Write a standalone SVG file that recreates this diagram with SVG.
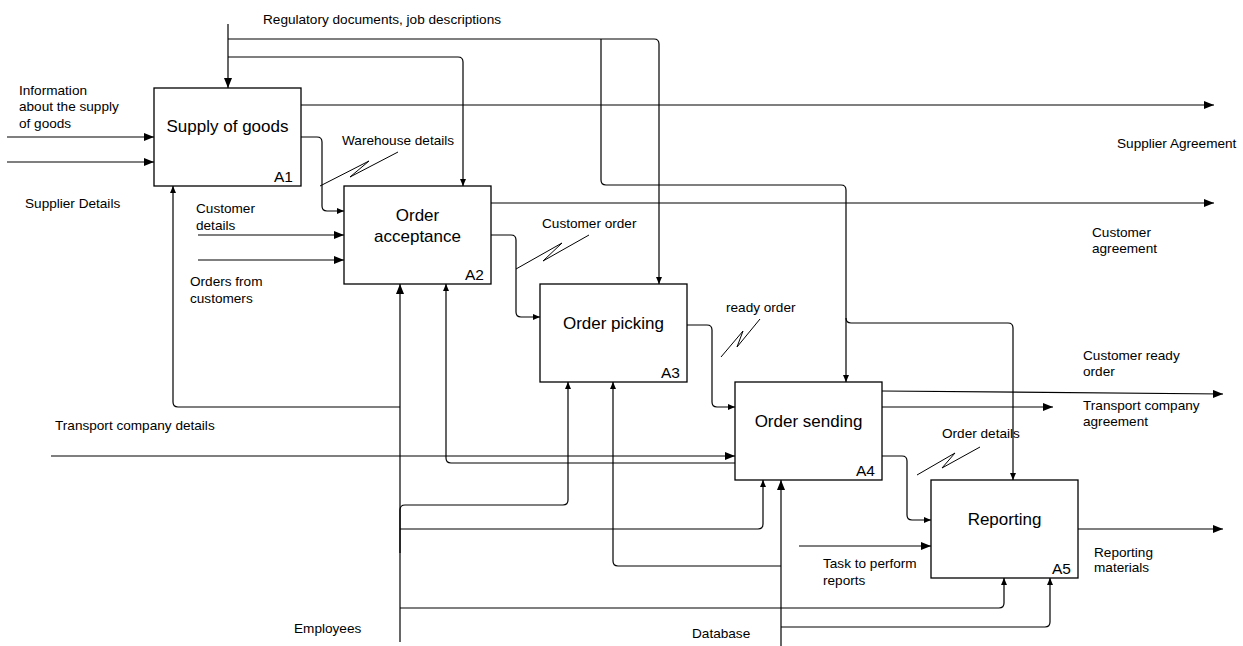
<svg xmlns="http://www.w3.org/2000/svg" width="1243" height="646" viewBox="0 0 1243 646">
<style>
  .box{fill:#fff;stroke:#000;stroke-width:1.3}
  .title{font-family:"Liberation Sans",Arial,sans-serif;font-size:17px;fill:#000;text-anchor:middle}
  .num{font-family:"Liberation Sans",Arial,sans-serif;font-size:15.5px;fill:#000;text-anchor:end}
  .lbl{font-family:"Liberation Sans",Arial,sans-serif;font-size:13.6px;fill:#000}
  .c{fill:none;stroke:#000;stroke-width:1.2}
  .cb{fill:none;stroke:#000;stroke-width:1.2;marker-end:url(#ab)}
  .cs{fill:none;stroke:#000;stroke-width:1.2;marker-end:url(#as)}
  .sq{fill:none;stroke:#000;stroke-width:1}
</style>
<defs>
  <marker id="ab" markerUnits="userSpaceOnUse" markerWidth="11" markerHeight="9" refX="10" refY="4" orient="auto">
    <path d="M0,0 L10,4 L0,8 z" fill="#000"/>
  </marker>
  <marker id="as" markerUnits="userSpaceOnUse" markerWidth="8" markerHeight="7" refX="7" refY="3" orient="auto">
    <path d="M0,0 L7,3 L0,6 z" fill="#000"/>
  </marker>
</defs>
<rect width="1243" height="646" fill="#fff"/>
<g id="connectors">
  <!-- controls -->
  <path class="cb" d="M228,24 V88"/>
  <path class="cs" d="M228,39 H654 Q659,39 659,44 V284"/>
  <path class="cs" d="M228,57 H458 Q463,57 463,62 V186"/>
  <path class="cs" d="M601,39 V180 Q601,185 606,185 H841 Q846,185 846,190 V382"/>
  <path class="cs" d="M846,318 Q846,323 851,323 H1008 Q1013,323 1013,328 V480"/>
  <!-- outputs -->
  <path class="cb" d="M301,105 H1214"/>
  <path class="cs" d="M301,137 H317 Q322,137 322,142 V206 Q322,211 327,211 H344"/>
  <path class="cb" d="M491,203 H1214"/>
  <path class="cs" d="M491,235 H511 Q516,235 516,240 V312 Q516,317 521,317 H540"/>
  <path class="cs" d="M687,325 H707 Q712,325 712,330 V402 Q712,407 717,407 H735"/>
  <path class="cb" d="M882,391 L1223,394"/>
  <path class="cb" d="M882,407 H1053"/>
  <path class="cs" d="M882,456 H902 Q907,456 907,461 V515 Q907,520 912,520 H931"/>
  <path class="cb" d="M1078,529 H1223"/>
  <!-- inputs -->
  <path class="cb" d="M7,137 H154"/>
  <path class="cb" d="M7,162 H154"/>
  <path class="cb" d="M198,235 H344"/>
  <path class="cb" d="M198,260 H344"/>
  <path class="cb" d="M51,456 H735"/>
  <path class="cb" d="M799,546 H931"/>
  <!-- mechanisms: employees -->
  <path class="cb" d="M400,642 V284"/>
  <path class="cs" d="M400,407 H178 Q173,407 173,402 V186"/>
  <path class="cs" d="M400,553 V510 Q400,505 405,505 H563 Q568,505 568,500 V382"/>
  <path class="cs" d="M400,529 H758 Q763,529 763,524 V480"/>
  <path class="cs" d="M400,608 H999 Q1004,608 1004,603 V578"/>
  <!-- mechanisms: database -->
  <path class="cb" d="M781,646 V480"/>
  <path class="cs" d="M781,566 H618 Q613,566 613,561 V382"/>
  <path class="cs" d="M781,627 H1045 Q1050,627 1050,622 V578"/>
  <!-- feedback A4 -> A2 -->
  <path class="cs" d="M735,463 H451 Q446,463 446,458 V284"/>
  <!-- squiggles -->
  <path class="sq" d="M320,186 L369,161 L350,177 L398,152"/>
  <path class="sq" d="M516,269 L562,243 L543,261 L589,235"/>
  <path class="sq" d="M721,357 L743,331 L737,347 L760,319"/>
  <path class="sq" d="M917,475 L955,453 L942,468 L980,447"/>
</g>
<g id="A1">
  <rect class="box" x="154" y="88" width="147" height="98"/>
  <text class="title" x="227.5" y="132">Supply of goods</text>
  <text class="num" x="293" y="182">A1</text>
</g>
<g id="A2">
  <rect class="box" x="344" y="186" width="147" height="98"/>
  <text class="title" x="417.5" y="221">Order</text>
  <text class="title" x="417.5" y="242">acceptance</text>
  <text class="num" x="484" y="280">A2</text>
</g>
<g id="A3">
  <rect class="box" x="540" y="284" width="147" height="98"/>
  <text class="title" x="613.5" y="329">Order picking</text>
  <text class="num" x="680" y="378">A3</text>
</g>
<g id="A4">
  <rect class="box" x="735" y="382" width="147" height="98"/>
  <text class="title" x="808.5" y="427">Order sending</text>
  <text class="num" x="875" y="476">A4</text>
</g>
<g id="A5">
  <rect class="box" x="931" y="480" width="147" height="98"/>
  <text class="title" x="1004.5" y="525">Reporting</text>
  <text class="num" x="1071" y="574">A5</text>
</g>
<g id="labels">
  <text class="lbl" x="263" y="24">Regulatory documents, job descriptions</text>
  <text class="lbl" x="19" y="95">Information</text>
  <text class="lbl" x="19" y="111">about the supply</text>
  <text class="lbl" x="19" y="128">of goods</text>
  <text class="lbl" x="25" y="208">Supplier Details</text>
  <text class="lbl" x="342" y="145">Warehouse details</text>
  <text class="lbl" x="196" y="213">Customer</text>
  <text class="lbl" x="196" y="230">details</text>
  <text class="lbl" x="190" y="286">Orders from</text>
  <text class="lbl" x="190" y="303">customers</text>
  <text class="lbl" x="55" y="430">Transport company details</text>
  <text class="lbl" x="294" y="633">Employees</text>
  <text class="lbl" x="692" y="638">Database</text>
  <text class="lbl" x="542" y="228">Customer order</text>
  <text class="lbl" x="726" y="312">ready order</text>
  <text class="lbl" x="1117" y="148">Supplier Agreement</text>
  <text class="lbl" x="1092" y="237">Customer</text>
  <text class="lbl" x="1092" y="253">agreement</text>
  <text class="lbl" x="1083" y="360">Customer ready</text>
  <text class="lbl" x="1083" y="376">order</text>
  <text class="lbl" x="1083" y="410">Transport company</text>
  <text class="lbl" x="1083" y="426">agreement</text>
  <text class="lbl" x="942" y="438">Order details</text>
  <text class="lbl" x="823" y="568">Task to perform</text>
  <text class="lbl" x="823" y="585">reports</text>
  <text class="lbl" x="1094" y="557">Reporting</text>
  <text class="lbl" x="1094" y="572">materials</text>
</g>
</svg>
